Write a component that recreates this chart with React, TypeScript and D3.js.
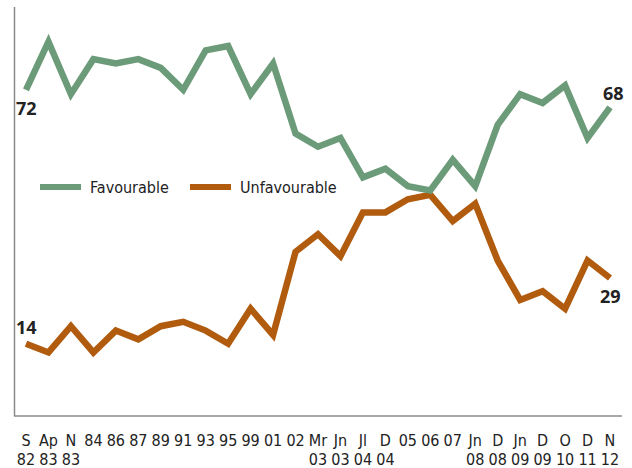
import * as d3 from 'd3'
import { useEffect, useRef } from 'react'

const periods = ['S', 'Ap', 'N', '84', '86', '87', '89', '91', '93', '95', '99', '01', '02', 'Mr', 'Jn', 'Jl', 'D', '05', '06', '07', 'Jn', 'D', 'Jn', 'D', 'O', 'D', 'N']
const years = ['82', '83', '83', '', '', '', '', '', '', '', '', '', '', '03', '03', '04', '04', '', '', '', '08', '08', '09', '09', '10', '11', '12']
const favourable = [72, 83, 71, 79, 78, 79, 77, 72, 81, 82, 71, 78, 62, 59, 61, 52, 54, 50, 49, 56, 50, 64, 71, 69, 73, 61, 68]
const unfavourable = [14, 12, 18, 12, 17, 15, 18, 19, 17, 14, 22, 16, 35, 39, 34, 44, 44, 47, 48, 42, 46, 33, 24, 26, 22, 33, 29]

const GREEN = '#6b9b78'
const ORANGE = '#b15b0f'

const App = () => {
  const ref = useRef<SVGSVGElement>(null)

  useEffect(() => {
    const width = 632
    const height = 468
    const svg = d3.select(ref.current)
    svg.selectAll('*').remove()
    svg.attr('width', width).attr('height', height)

    const idx = periods.map((_, i) => i)
    const x = d3.scalePoint<number>().domain(idx).range([26, 610])
    const y = d3.scaleLinear().domain([0, 90]).range([405, 11])

    // axes
    svg.append('line')
      .attr('x1', 14.5).attr('x2', 14.5).attr('y1', 7).attr('y2', 416)
      .attr('stroke', '#8a8a8a').attr('stroke-width', 1.5)
    svg.append('line')
      .attr('x1', 14).attr('x2', 622).attr('y1', 416).attr('y2', 416)
      .attr('stroke', '#8a8a8a').attr('stroke-width', 1.5)

    const font = '"Liberation Sans Narrow", "DejaVu Sans Condensed", sans-serif'

    // tick labels
    const ticks = svg.append('g').attr('font-family', font).attr('font-size', 16).attr('fill', '#222').attr('text-anchor', 'middle')
    ticks.selectAll('text.p').data(idx).enter().append('text')
      .attr('class', 'p')
      .attr('x', (d) => x(d)!)
      .attr('y', 446)
      .text((d) => periods[d])
    ticks.selectAll('text.yr').data(idx.filter((d) => years[d] !== '')).enter().append('text')
      .attr('class', 'yr')
      .attr('x', (d) => x(d)!)
      .attr('y', 465)
      .text((d) => years[d])

    const line = d3.line<number>().x((_, i) => x(i)!).y((d) => y(d))

    svg.append('path').datum(unfavourable).attr('d', line)
      .attr('fill', 'none').attr('stroke', ORANGE).attr('stroke-width', 6.5).attr('stroke-linejoin', 'miter')
    svg.append('path').datum(favourable).attr('d', line)
      .attr('fill', 'none').attr('stroke', GREEN).attr('stroke-width', 6.5).attr('stroke-linejoin', 'miter')

    // end labels
    const last = periods.length - 1
    const lab = svg.append('g').attr('font-family', '"Open Sans", "DejaVu Sans", sans-serif')
      .attr('font-size', 18).attr('font-weight', 'bold').attr('fill', '#222')
    lab.append('text').attr('x', x(0)! - 10).attr('y', y(favourable[0]) + 25).text(favourable[0])
    lab.append('text').attr('x', x(0)! - 10).attr('y', y(unfavourable[0]) - 10).text(unfavourable[0])
    lab.append('text').attr('x', x(last)! - 7).attr('y', y(favourable[last]) - 7).text(favourable[last])
    lab.append('text').attr('x', x(last)! - 10).attr('y', y(unfavourable[last]) + 25).text(unfavourable[last])

    // legend
    const legend = svg.append('g').attr('font-family', font).attr('font-size', 16).attr('fill', '#222')
    const items = [
      { name: 'Favourable', color: GREEN, x0: 40 },
      { name: 'Unfavourable', color: ORANGE, x0: 190 },
    ]
    items.forEach((it) => {
      legend.append('line').attr('x1', it.x0).attr('x2', it.x0 + 41).attr('y1', 187).attr('y2', 187)
        .attr('stroke', it.color).attr('stroke-width', 6)
      legend.append('text').attr('x', it.x0 + 50).attr('y', 193).text(it.name)
    })
  }, [])

  return (
    <div style={{ position: 'absolute', left: 0, top: 0 }}>
      <svg ref={ref}></svg>
    </div>
  )
}

export default App
